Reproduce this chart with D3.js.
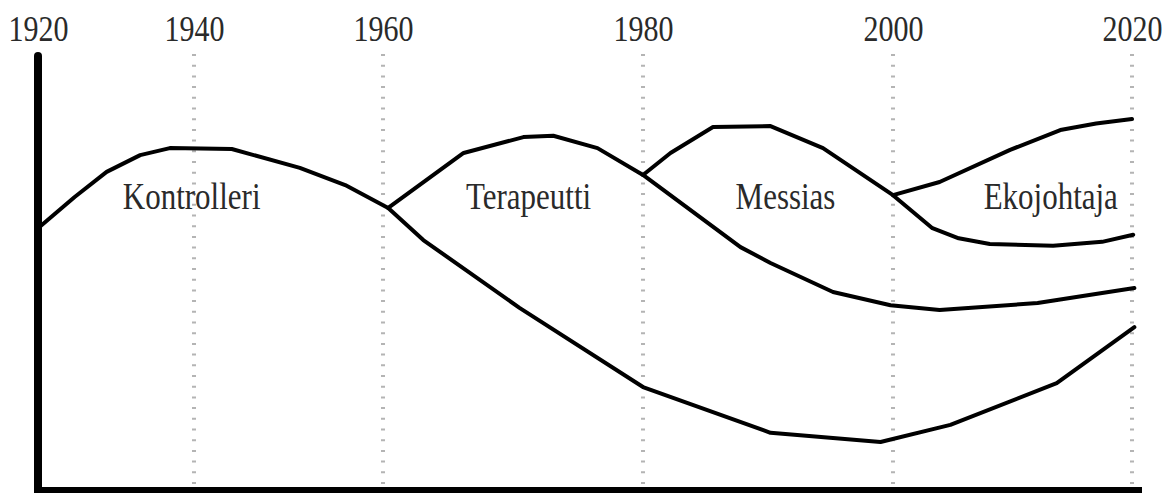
<!DOCTYPE html>
<html>
<head>
<meta charset="utf-8">
<script src="https://cdn.jsdelivr.net/npm/d3@7"></script>
<style>
  html, body { margin: 0; padding: 0; background: #fff; }
  svg { display: block; }
  text { font-family: "Liberation Serif", "Times New Roman", serif; fill: #2a2a2a; }
</style>
</head>
<body>
<div id="chart"></div>
<script>
// tick years along the top
var tickYears = [1920, 1940, 1960, 1980, 2000, 2020];

// each line: [year, level]
var kontrolleri = [[1920, 59.5], [1924.7, 66.6], [1928.8, 72.3], [1933.1, 76.1], [1936.9, 77.7],
  [1944.0, 77.5], [1951.2, 73.2], [1956.0, 69.3], [1960.4, 64.1], [1963.1, 56.8], [1970.5, 41.4],
  [1980, 23.4], [1990.2, 13.0], [1999.0, 10.9], [2004.8, 14.8], [2013.7, 24.3], [2020.2, 37.0]];
var terapeutti = [[1960.4, 64.1], [1966.2, 76.6], [1970.8, 80.2], [1973.1, 80.5], [1976.5, 77.7],
  [1980, 71.6], [1987.8, 55.2], [1990.2, 51.6], [1995.2, 45.0], [1999.8, 42.0], [2003.9, 40.9],
  [2012.1, 42.5], [2020.2, 45.9]];
var messias = [[1980, 71.6], [1982.2, 76.6], [1985.6, 82.5], [1990.2, 82.7], [1994.4, 77.7],
  [2000, 67.0], [2003.3, 59.5], [2005.5, 57.2], [2008.1, 55.9], [2013.4, 55.5], [2017.5, 56.4],
  [2020.1, 58.0]];
var ekojohtaja = [[2000, 67.0], [2003.9, 70.0], [2009.8, 77.3], [2014.0, 81.8], [2017.0, 83.3],
  [2020, 84.3]];

var roleNames = ["Kontrolleri", "Terapeutti", "Messias", "Ekojohtaja"];
// where each name sits (year, level)
var roleLabelAt = [[1939.7, 63.9], [1971.2, 63.9], [1991.4, 63.9], [2013.2, 63.9]];

var width = 1163, height = 493;

// the year axis is not evenly spaced in the original, so use a piecewise scale
var x = d3.scaleLinear()
    .domain(tickYears)
    .range([38, 194, 383, 643, 893, 1132]);

var y = d3.scaleLinear()
    .domain([0, 100])
    .range([490, 50]);

var svg = d3.select("#chart").append("svg")
    .attr("width", width)
    .attr("height", height);

// dotted gridlines
svg.append("g")
    .selectAll("line")
    .data(tickYears.slice(1))
  .enter().append("line")
    .attr("x1", function(d) { return x(d); })
    .attr("x2", function(d) { return x(d); })
    .attr("y1", 54)
    .attr("y2", 488)
    .attr("stroke", "#b4b4b4")
    .attr("stroke-width", 4)
    .attr("stroke-dasharray", "2,8.7");

// year labels
var yearAxis = svg.append("g")
    .attr("transform", "translate(0,41)")
    .call(d3.axisTop(x).tickValues(tickYears).tickSize(0).tickFormat(d3.format("d")));
yearAxis.select(".domain").remove();
yearAxis.selectAll("text")
    .attr("y", 0)
    .attr("dy", 0)
    .attr("transform", "scale(1,1.22)")
    .style("font-family", "'Liberation Serif', serif")
    .style("font-size", "30px")
    .style("fill", "#2a2a2a");

// the thick frame
svg.append("line")
    .attr("x1", 34).attr("x2", 1142)
    .attr("y1", 490).attr("y2", 490)
    .attr("stroke", "#000")
    .attr("stroke-width", 6);
svg.append("line")
    .attr("x1", 38).attr("x2", 38)
    .attr("y1", 56).attr("y2", 493)
    .attr("stroke", "#000")
    .attr("stroke-width", 8)
    .attr("stroke-linecap", "round");

var line = d3.line()
    .x(function(d) { return x(d[0]); })
    .y(function(d) { return y(d[1]); });

svg.append("g")
    .selectAll("path")
    .data([kontrolleri, terapeutti, messias, ekojohtaja])
  .enter().append("path")
    .attr("d", line)
    .attr("fill", "none")
    .attr("stroke", "#000")
    .attr("stroke-width", 4)
    .attr("stroke-linejoin", "round")
    .attr("stroke-linecap", "round");

svg.append("g")
    .selectAll("text")
    .data(roleNames)
  .enter().append("text")
    .attr("transform", function(d, i) {
      return "translate(" + x(roleLabelAt[i][0]) + "," + y(roleLabelAt[i][1]) + ") scale(1,1.22)";
    })
    .attr("text-anchor", "middle")
    .style("font-size", "31px")
    .text(function(d) { return d; });
</script>
</body>
</html>
